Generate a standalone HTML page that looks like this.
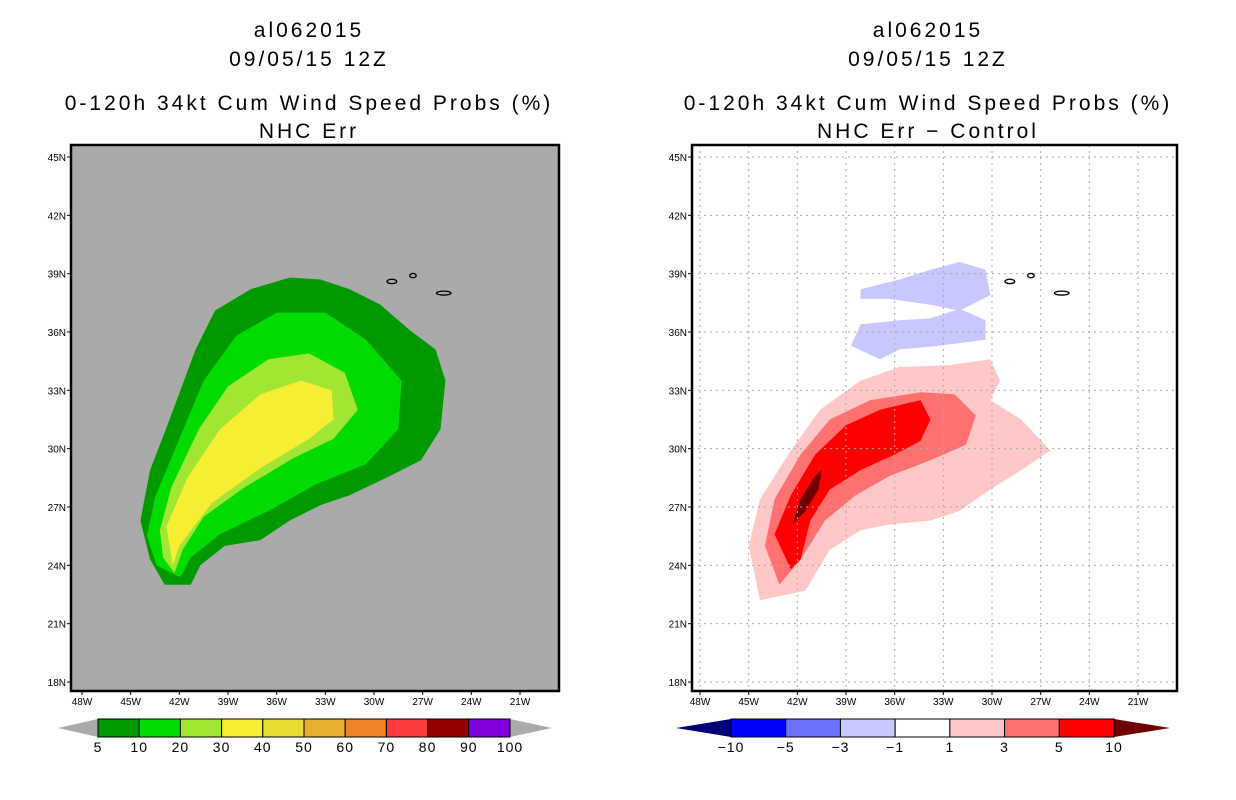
<!DOCTYPE html>
<html><head><meta charset="utf-8"><style>
html,body{margin:0;padding:0;background:#fff;}
svg{display:block;font-family:"Liberation Sans",sans-serif;}
</style></head><body>
<svg id="chart" width="1236" height="800" viewBox="0 0 1236 800">
<rect width="1236" height="800" fill="#fff"/>
<g font-size="21" text-anchor="middle" fill="#000" letter-spacing="3">
<text x="309" y="37">al062015</text>
<text x="309" y="66">09/05/15 12Z</text>
<text x="309" y="110">0-120h 34kt Cum Wind Speed Probs (%)</text>
<text x="309" y="138">NHC Err</text>
</g>
<g font-size="21" text-anchor="middle" fill="#000" letter-spacing="3">
<text x="928" y="37">al062015</text>
<text x="928" y="66">09/05/15 12Z</text>
<text x="928" y="110">0-120h 34kt Cum Wind Speed Probs (%)</text>
<text x="928" y="138">NHC Err − Control</text>
</g>
<g id="left"></g>
<g id="right"></g>
<g id="cbl"></g>
<g id="cbr"></g>
</svg>
<script>
const lonTicks=[-48,-45,-42,-39,-36,-33,-30,-27,-24,-21];
const latTicks=[18,21,24,27,30,33,36,39,42,45];
const probLevels=[5,10,20,30,40,50,60,70,80,90,100];
const probColors=["#009900","#00dc00","#a0e632","#f5ee32","#e6dc32","#e6af2d","#f08228","#fa3c3c","#960000","#8200dc"];
const diffLevels=[-10,-5,-3,-1,1,3,5,10];
const diffColors=["#000078","#0000ff","#7070ff","#c8c8ff","#ffffff","#ffc8c8","#ff7070","#ff0000","#6e0000"];
// contour polygons [lon,lat]
const prob5=[[-42.9,23.0],[-43.8,24.3],[-44.4,26.3],[-43.8,28.9],[-42.6,31.5],[-41.0,35.1],[-39.8,37.1],[-37.6,38.2],[-35.2,38.8],[-33.3,38.7],[-31.5,38.2],[-29.6,37.4],[-27.8,36.1],[-26.2,35.1],[-25.6,33.5],[-25.9,31.0],[-27.1,29.4],[-29.0,28.6],[-31.5,27.6],[-33.3,27.1],[-35.2,26.3],[-37.0,25.3],[-39.2,25.0],[-40.7,24.0],[-41.3,23.0]];
const prob10=[[-42.0,23.4],[-43.4,24.0],[-44.0,25.5],[-43.5,27.5],[-42.0,30.5],[-40.5,33.5],[-38.5,35.8],[-36.0,37.0],[-33.0,37.0],[-30.5,35.6],[-28.3,33.5],[-28.5,31.0],[-30.5,29.2],[-33.5,28.2],[-36.5,26.8],[-39.5,25.6],[-41.3,24.4],[-41.8,23.6]];
const prob20=[[-42.3,23.6],[-43.0,24.4],[-43.2,25.8],[-42.5,28.0],[-40.8,31.0],[-39.0,33.2],[-36.5,34.6],[-34.0,34.9],[-31.8,33.9],[-31.0,32.0],[-32.5,30.5],[-35.0,29.5],[-38.0,28.0],[-40.5,26.5],[-41.8,24.8]];
const prob30=[[-42.4,24.0],[-42.8,26.0],[-41.5,28.5],[-39.5,31.0],[-37.0,32.8],[-34.5,33.5],[-32.6,33.0],[-32.5,31.5],[-34.0,30.5],[-37.0,29.0],[-40.0,27.2],[-42.0,25.0]];
const diffPos1=[[-44.3,22.2],[-45.0,25.0],[-44.3,27.4],[-42.4,29.9],[-40.6,32.0],[-38.1,33.5],[-35.7,34.2],[-32.6,34.3],[-30.1,34.6],[-29.5,33.5],[-30.1,32.5],[-28.2,31.5],[-26.4,29.9],[-28.2,28.9],[-30.1,27.9],[-32.0,26.8],[-33.8,26.3],[-36.3,26.1],[-38.1,25.8],[-40.0,24.8],[-41.5,22.7]];
const diffPos3=[[-43.1,23.0],[-44.0,25.0],[-43.4,27.4],[-41.8,29.7],[-40.0,31.5],[-37.5,32.5],[-34.4,32.9],[-32.3,32.8],[-31.0,31.7],[-31.6,30.2],[-33.8,29.4],[-36.3,28.6],[-38.4,27.6],[-40.3,26.3],[-41.8,24.3]];
const diffPos5=[[-42.4,23.8],[-43.4,25.6],[-42.4,27.6],[-40.9,29.7],[-39.0,31.2],[-36.9,32.0],[-34.4,32.5],[-33.8,31.5],[-34.4,30.4],[-36.0,29.7],[-38.1,28.9],[-40.0,27.9],[-41.2,26.3],[-41.8,24.3]];
const diffPos10=[[-42.3,26.1],[-41.8,27.4],[-40.9,28.6],[-40.5,28.9],[-40.7,27.9],[-41.5,26.8]];
const diffNegA=[[-38.1,38.2],[-35.7,38.7],[-33.8,39.2],[-32.0,39.6],[-30.4,39.2],[-30.1,37.9],[-32.0,37.1],[-33.8,37.4],[-36.3,37.7],[-38.1,37.7]];
const diffNegB=[[-38.7,35.3],[-38.1,36.4],[-35.7,36.6],[-33.8,36.7],[-32.0,37.2],[-30.4,36.6],[-30.4,35.6],[-33.2,35.3],[-35.7,35.1],[-36.9,34.6]];
const islands=[[-28.9,38.6,0.3,0.06],[-27.6,38.9,0.2,0.06],[-25.7,38.0,0.45,0.05]];

const NS="http://www.w3.org/2000/svg";
function mk(p,t,a){const e=document.createElementNS(NS,t);for(const k in a)e.setAttribute(k,a[k]);p.appendChild(e);return e;}
function panel(g,fx0,fx1,x48,x21,bg,grid){
  const fy0=145,fy1=691,y18=682,y45=157;
  const X=lon=>x48+(lon+48)*(x21-x48)/27, Y=lat=>y18-(lat-18)*(y18-y45)/27;
  const r=mk(g,'rect',{x:fx0,y:fy0,width:fx1-fx0,height:fy1-fy0,fill:bg});
  
  
  return {X,Y,fx0,fx1,fy0,fy1,finish(){
    for(const lo of lonTicks){const x=X(lo);
      if(grid){const l=mk(g,'line',{x1:x,x2:x,y1:fy0,y2:fy1,stroke:'#aaa','stroke-dasharray':'2,4'});}
      mk(g,'line',{x1:x,x2:x,y1:fy1,y2:fy1+4,stroke:'#000'});
      const t=mk(g,'text',{x:x,y:fy1+14,'font-size':10,'text-anchor':'middle'});t.textContent=(-lo)+'W';
      }
    for(const la of latTicks){const y=Y(la);
      if(grid){const l=mk(g,'line',{x1:fx0,x2:fx1,y1:y,y2:y,stroke:'#aaa','stroke-dasharray':'2,4'});}
      mk(g,'line',{x1:fx0-4,x2:fx0,y1:y,y2:y,stroke:'#000'});
      const t=mk(g,'text',{x:fx0-5,y:y+4,'font-size':10,'text-anchor':'end'});t.textContent=la+'N';
      }
    for(const s of islands){const e=mk(g,'ellipse',{cx:X(s[0]),cy:Y(s[1]),rx:s[2]*(x21-x48)/27,ry:s[3]*19.4+1,fill:'none',stroke:'#000','stroke-width':1.3});
      }
    const f=mk(g,'rect',{x:fx0,y:fy0,width:fx1-fx0,height:fy1-fy0,fill:'none',stroke:'#000','stroke-width':2.5});
    
  }};
}
function poly(g,P,pts,col,name){
  const p=mk(g,'polygon',{points:pts.map(q=>P.X(q[0]).toFixed(1)+','+P.Y(q[1]).toFixed(1)).join(' '),fill:col,'stroke-linejoin':'round'});
  
  
}
const L=panel(document.getElementById('left'),71,559,82,520,'#aaaaaa',false);
const gl=document.getElementById('left');
poly(gl,L,prob5,probColors[0],'contour-5-10');
poly(gl,L,prob10,probColors[1],'contour-10-20');
poly(gl,L,prob20,probColors[2],'contour-20-30');
poly(gl,L,prob30,probColors[3],'contour-30-40');
L.finish();
const R=panel(document.getElementById('right'),692,1177,700,1138,'#ffffff',true);
const gr=document.getElementById('right');
poly(gr,R,diffNegA,diffColors[3],'contour-neg-north');
poly(gr,R,diffNegB,diffColors[3],'contour-neg-south');
poly(gr,R,diffPos1,diffColors[5],'contour-1-3');
poly(gr,R,diffPos3,diffColors[6],'contour-3-5');
poly(gr,R,diffPos5,diffColors[7],'contour-5-10');
poly(gr,R,diffPos10,diffColors[8],'contour-over-10');
R.finish();

function colorbar(g,x0,x1,tipL,tipR,cols,labels,leftCol,rightCol){
  const y0=719,y1=737,ym=(y0+y1)/2,n=cols.length,w=(x1-x0)/n;
  const a=mk(g,'polygon',{points:`${tipL},${ym} ${x0},${y0} ${x0},${y1}`,fill:leftCol});
  
  const b=mk(g,'polygon',{points:`${tipR},${ym} ${x1},${y0} ${x1},${y1}`,fill:rightCol});
  
  cols.forEach((c,i)=>{const r=mk(g,'rect',{x:x0+i*w,y:y0,width:w,height:y1-y0,fill:c,stroke:'#000','stroke-width':1});
    });
  labels.forEach((l,i)=>{const t=mk(g,'text',{x:x0+i*w,y:752,'font-size':14,'text-anchor':'middle','letter-spacing':1});t.textContent=String(l).replace('-','−');
    });
}
colorbar(document.getElementById('cbl'),98,510,58,552,probColors,probLevels,'#aaaaaa','#aaaaaa');
colorbar(document.getElementById('cbr'),731,1114,676,1170,diffColors.slice(1,8),diffLevels,diffColors[0],diffColors[8]);
</script>
</body></html>
